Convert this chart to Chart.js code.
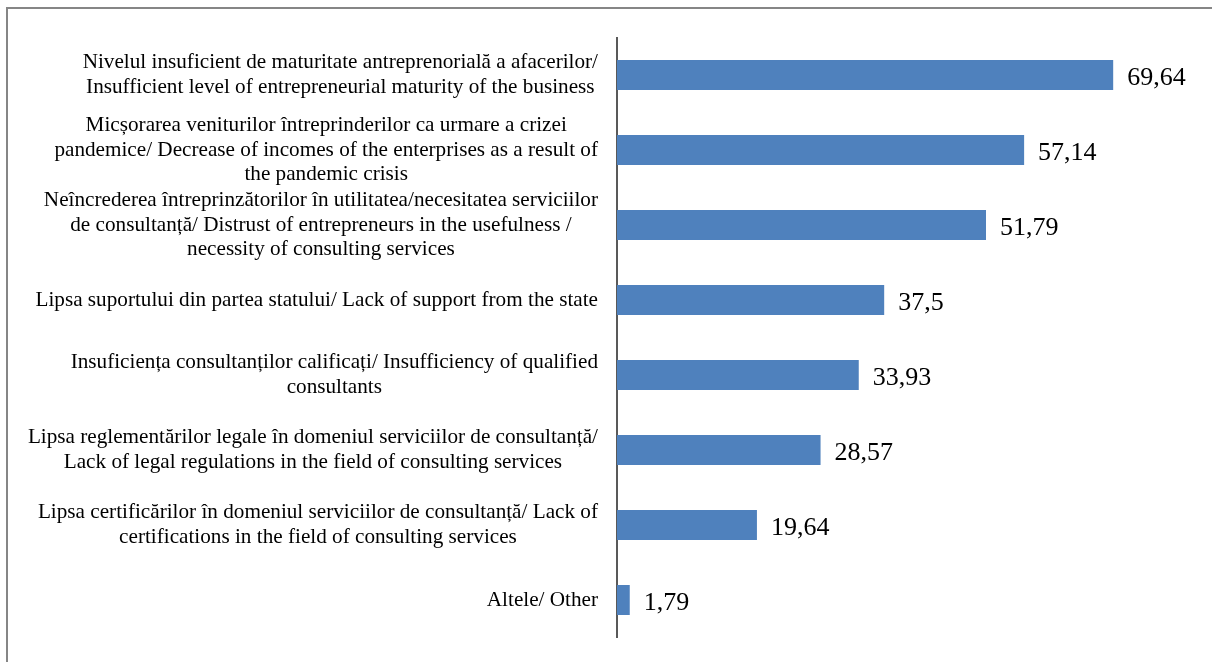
<!DOCTYPE html>
<html>
<head>
<meta charset="utf-8">
<script src="https://cdn.jsdelivr.net/npm/chart.js@4"></script>
<style>
  html, body { margin: 0; padding: 0; background: #fff; }
  #wrap { position: relative; width: 1212px; height: 662px; }
</style>
</head>
<body>
<div id="wrap"><canvas id="c" width="1212" height="662"></canvas></div>
<script>
const categories = [
  ["Nivelul insuficient de maturitate antreprenorială a afacerilor/", "Insufficient level of entrepreneurial maturity of the business"],
  ["Micșorarea veniturilor întreprinderilor ca urmare a crizei", "pandemice/ Decrease of incomes of the enterprises as a result of", "the pandemic crisis"],
  ["Neîncrederea întreprinzătorilor în utilitatea/necesitatea serviciilor", "de consultanță/ Distrust of entrepreneurs in the usefulness /", "necessity of consulting services"],
  ["Lipsa suportului din partea statului/ Lack of support from the state"],
  ["Insuficiența consultanților calificați/ Insufficiency of qualified", "consultants"],
  ["Lipsa reglementărilor legale în domeniul serviciilor de consultanță/", "Lack of legal regulations in the field of consulting services"],
  ["Lipsa certificărilor în domeniul serviciilor de consultanță/ Lack of", "certifications in the field of consulting services"],
  ["Altele/ Other"]
];
const values = [69.64, 57.14, 51.79, 37.5, 33.93, 28.57, 19.64, 1.79];
const xMin = 0;
const xMax = 80;

const LABEL_FONT = '21.2px "Liberation Serif", "Times New Roman", serif';
const VALUE_FONT = '26px "Liberation Serif", "Times New Roman", serif';

const framePlugin = {
  id: 'frame',
  beforeDraw(chart) {
    const ctx = chart.ctx;
    ctx.save();
    ctx.fillStyle = '#ffffff';
    ctx.fillRect(0, 0, chart.width, chart.height);
    ctx.strokeStyle = '#868686';
    ctx.lineWidth = 2;
    ctx.beginPath();
    ctx.moveTo(7, chart.height);
    ctx.lineTo(7, 8);
    ctx.lineTo(chart.width, 8);
    ctx.stroke();
    ctx.restore();
  }
};

const labelsPlugin = {
  id: 'catLabels',
  afterDraw(chart) {
    const ctx = chart.ctx;
    const yScale = chart.scales.y;
    const rightEdge = chart.chartArea.left - 19;
    const lh = 24.5;
    ctx.save();
    ctx.font = LABEL_FONT;
    ctx.fillStyle = '#000000';
    ctx.textAlign = 'center';
    ctx.textBaseline = 'middle';
    chart.data.labels.forEach((lines, i) => {
      const yc = yScale.getPixelForTick(i);
      let maxW = 0;
      lines.forEach(l => { maxW = Math.max(maxW, ctx.measureText(l).width); });
      const cx = rightEdge - maxW / 2;
      const y0 = yc - (lines.length - 1) * lh / 2;
      lines.forEach((l, j) => ctx.fillText(l, cx, y0 + j * lh));
    });
    // value labels
    ctx.font = VALUE_FONT;
    ctx.textAlign = 'left';
    ctx.textBaseline = 'alphabetic';
    const meta = chart.getDatasetMeta(0);
    meta.data.forEach((bar, i) => {
      const txt = String(chart.data.datasets[0].data[i]).replace('.', ',');
      ctx.fillText(txt, bar.x + 14, bar.y + 10);
    });
    ctx.restore();
  }
};

new Chart(document.getElementById('c'), {
  type: 'bar',
  data: {
    labels: categories,
    datasets: [{
      data: values,
      backgroundColor: '#4F81BD',
      borderWidth: 0,
      barPercentage: 0.4,
      categoryPercentage: 1.0
    }]
  },
  options: {
    indexAxis: 'y',
    responsive: false,
    animation: false,
    devicePixelRatio: 1,
    layout: { padding: { left: 617, right: 25, top: 37.5, bottom: 24.5 } },
    plugins: { legend: { display: false }, tooltip: { enabled: false } },
    scales: {
      x: { display: false, min: xMin, max: xMax },
      y: {
        display: true,
        grid: { display: false, drawTicks: false },
        border: { display: true, color: '#595959', width: 2 },
        ticks: { display: false },
        afterFit(scale) { scale.width = 0; }
      }
    }
  },
  plugins: [framePlugin, labelsPlugin]
});
</script>
</body>
</html>
